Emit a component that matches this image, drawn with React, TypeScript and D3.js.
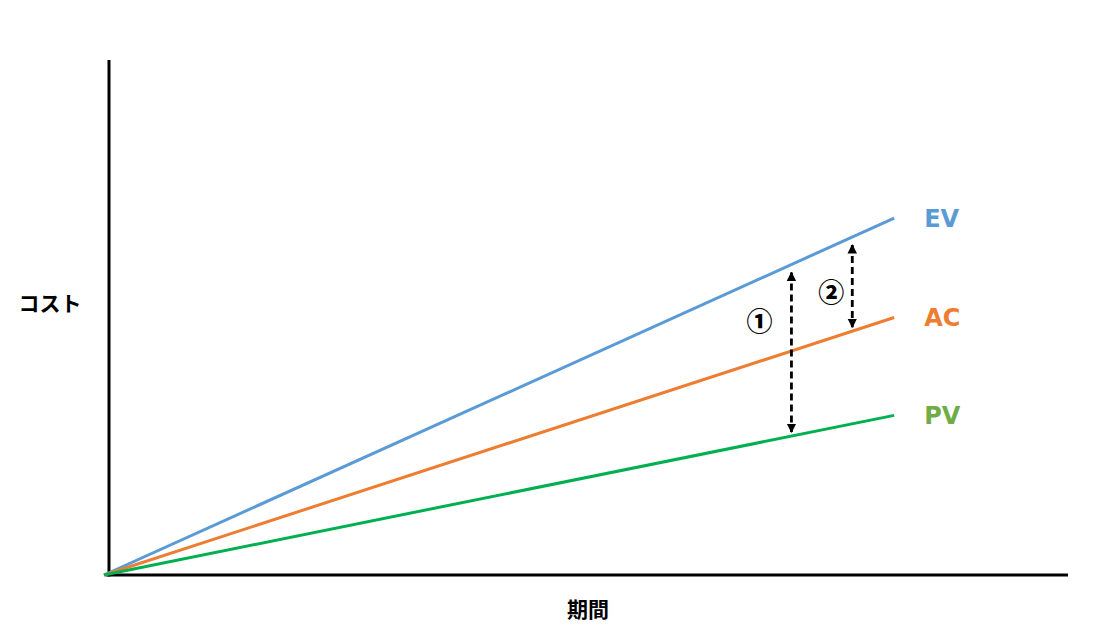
import React, { useEffect, useRef } from 'react'
import * as d3 from 'd3'

// period values and cost of each line at the end of the chart
const periods = [0, 10]
const evValues = [0, 69.3]
const acValues = [0, 50]
const pvValues = [0, 31]

const seriesNames = ['EV', 'AC', 'PV']
const lineColors = ['#5B9BD5', '#ED7D31', '#00B050']
const labelColors = ['#5B9BD5', '#ED7D31', '#70AD47']

// gap arrows: period where they sit, and from / to series
const gapLabels = ['①', '②']
const gapPeriods = [8.7, 9.47]
const gapFrom = ['EV', 'EV']
const gapTo = ['PV', 'AC']

const width = 1116
const height = 630

const App: React.FC = () => {
  const svgRef = useRef<SVGSVGElement>(null)

  useEffect(() => {
    if (!svgRef.current) return
    const svg = d3.select(svgRef.current)
    svg.selectAll('*').remove()

    const font = '"Noto Sans CJK JP", "DejaVu Sans", sans-serif'

    const xScale = d3.scaleLinear().domain([0, 12.2]).range([104, 1068])
    const yScale = d3.scaleLinear().domain([0, 100]).range([575, 60])

    const seriesValues: Record<string, number[]> = {
      EV: evValues,
      AC: acValues,
      PV: pvValues
    }
    const valueAt = (name: string, t: number) => {
      const v = seriesValues[name]
      return d3.scaleLinear().domain(periods).range(v)(t)
    }

    // arrow marker
    const defs = svg.append('defs')
    defs
      .append('marker')
      .attr('id', 'arrowHead')
      .attr('viewBox', '0 0 10 10')
      .attr('refX', 9)
      .attr('refY', 5)
      .attr('markerWidth', 3.4)
      .attr('markerHeight', 3.6)
      .attr('orient', 'auto-start-reverse')
      .attr('markerUnits', 'strokeWidth')
      .append('path')
      .attr('d', 'M0,0 L10,5 L0,10 Z')
      .attr('fill', '#000')

    // axes
    svg
      .append('line')
      .attr('x1', xScale(0) + 5)
      .attr('x2', xScale(0) + 5)
      .attr('y1', yScale(100))
      .attr('y2', yScale(0) + 1.5)
      .attr('stroke', '#000')
      .attr('stroke-width', 3)

    svg
      .append('line')
      .attr('x1', xScale(0) + 2)
      .attr('x2', xScale(12.2))
      .attr('y1', yScale(0))
      .attr('y2', yScale(0))
      .attr('stroke', '#000')
      .attr('stroke-width', 3)

    const line = d3
      .line<number>()
      .x((d, i) => xScale(periods[i]))
      .y((d) => yScale(d))

    seriesNames.forEach((name, i) => {
      svg
        .append('path')
        .datum(seriesValues[name])
        .attr('d', line)
        .attr('fill', 'none')
        .attr('stroke', lineColors[i])
        .attr('stroke-width', 3)

      svg
        .append('text')
        .attr('x', xScale(periods[1]) + 30)
        .attr('y', yScale(seriesValues[name][1]))
        .attr('dy', '0.36em')
        .attr('fill', labelColors[i])
        .style('font-family', '"DejaVu Sans", sans-serif')
        .style('font-size', '24px')
        .style('font-weight', '700')
        .text(name)
    })

    // gap arrows
    gapLabels.forEach((label, i) => {
      const t = gapPeriods[i]
      const x = xScale(t)
      const y1 = yScale(valueAt(gapFrom[i], t)) + 8
      const y2 = yScale(valueAt(gapTo[i], t)) - 4
      svg
        .append('line')
        .attr('x1', x)
        .attr('x2', x)
        .attr('y1', y1)
        .attr('y2', y2)
        .attr('stroke', '#000')
        .attr('stroke-width', 2.8)
        .attr('stroke-dasharray', '7,4')
        .attr('marker-start', 'url(#arrowHead)')
        .attr('marker-end', 'url(#arrowHead)')

      svg
        .append('text')
        .attr('x', x - (i === 0 ? 32 : 21))
        .attr('y', (y1 + y2) / 2 + (i === 0 ? -31 : 7))
        .attr('text-anchor', 'middle')
        .attr('dy', '0.36em')
        .attr('fill', '#000')
        .style('font-family', font)
        .style('font-size', '26px')
        .style('font-weight', '900')
        .text(label)
    })

    // axis titles
    svg
      .append('text')
      .attr('x', 50)
      .attr('y', 303)
      .attr('text-anchor', 'middle')
      .attr('dy', '0.36em')
      .style('font-family', font)
      .style('font-size', '21px')
      .style('font-weight', '700')
      .text('コスト')

    svg
      .append('text')
      .attr('x', 588)
      .attr('y', 609)
      .attr('text-anchor', 'middle')
      .attr('dy', '0.36em')
      .style('font-family', font)
      .style('font-size', '21px')
      .style('font-weight', '700')
      .text('期間')
  }, [])

  return (
    <svg
      ref={svgRef}
      width={width}
      height={height}
      style={{ position: 'absolute', left: 0, top: 0, background: '#fff' }}
    ></svg>
  )
}

export default App
